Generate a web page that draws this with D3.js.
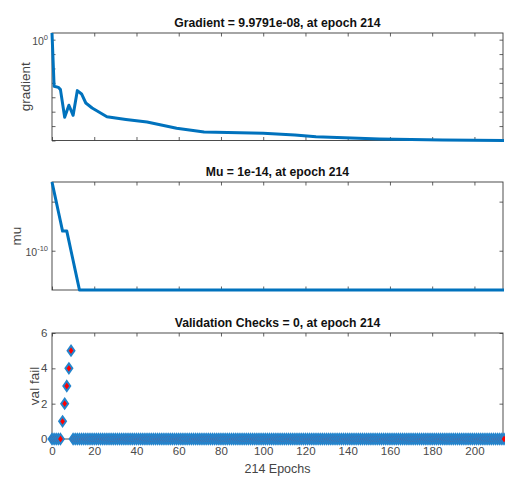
<!DOCTYPE html>
<html>
<head>
<meta charset="utf-8">
<script src="https://cdn.jsdelivr.net/npm/d3@7"></script>
<style>
  body { margin: 0; background: #fff; }
  svg { display: block; font-family: "Liberation Sans", Arial, sans-serif; }
</style>
</head>
<body>
<svg id="chart" width="505" height="477"></svg>
<script>
// Training record: 214 epochs
const lastEpoch = 214;
const xTickValues = [0, 20, 40, 60, 80, 100, 120, 140, 160, 180, 200];

// Gradient per epoch (sampled along the curve)
const gradEpochs = [0, 1, 3, 4, 6, 8, 10, 12, 14, 16, 19, 22, 26, 35, 45, 59, 72, 100, 115, 125, 155, 185, 214];
const gradValues = [2.9, 5.8e-4, 4.9e-4, 3.4e-4, 4.1e-6, 2.8e-5, 5.6e-6, 2.9e-4, 1.7e-4, 4.0e-5, 1.8e-5,
                    1.0e-5, 4.5e-6, 2.9e-6, 1.9e-6, 7.1e-7, 3.9e-7, 3.2e-7, 2.4e-7, 1.8e-7, 1.25e-7, 1.08e-7, 9.9791e-8];
const gradTicks = [1e0, 1e-1, 1e-2, 1e-3, 1e-4, 1e-5, 1e-6, 1e-7];
const gradTickLabels = [[1e0, "10", "0"]];

// Mu per epoch
const muEpochs = [0, 1, 2, 3, 4, 5, 6, 7, 8, 9, 10, 11, 12, 13, 214];
const muValues = [1e-3, 1e-4, 1e-5, 1e-6, 1e-7, 1e-8, 1e-8, 1e-8, 1e-9, 1e-10, 1e-11, 1e-12, 1e-13, 1e-14, 1e-14];
const muTicks = [1e-5, 1e-10];
const muTickLabels = [[1e-10, "10", "-10"]];

// Validation failures, epochs 0..214
const valFail = [
  0,0,0,0,0,1,2,3,4,5,
  0,0,0,0,0,0,0,0,0,0,0,0,0,0,0,0,0,0,0,0,
  0,0,0,0,0,0,0,0,0,0,0,0,0,0,0,0,0,0,0,0,
  0,0,0,0,0,0,0,0,0,0,0,0,0,0,0,0,0,0,0,0,
  0,0,0,0,0,0,0,0,0,0,0,0,0,0,0,0,0,0,0,0,
  0,0,0,0,0,0,0,0,0,0,0,0,0,0,0,0,0,0,0,0,
  0,0,0,0,0,0,0,0,0,0,0,0,0,0,0,0,0,0,0,0,
  0,0,0,0,0,0,0,0,0,0,0,0,0,0,0,0,0,0,0,0,
  0,0,0,0,0,0,0,0,0,0,0,0,0,0,0,0,0,0,0,0,
  0,0,0,0,0,0,0,0,0,0,0,0,0,0,0,0,0,0,0,0,
  0,0,0,0,0,0,0,0,0,0,0,0,0,0,0,0,0,0,0,0,
  0,0,0,0,0
];
const valTicks = [0, 2, 4, 6];

const titles = ["Gradient = 9.9791e-08, at epoch 214", "Mu = 1e-14, at epoch 214", "Validation Checks = 0, at epoch 214"];
const yLabels = ["gradient", "mu", "val fail"];
const xLabel = "214 Epochs";

const svg = d3.select("#chart");
const left = 52, right = 503;
const lineBlue = "#0072BD";
const axisColor = "#3a3a3a";
const tickText = "#4a4a4a";
const tickLen = 3.5;

const x = d3.scaleLinear().domain([0, lastEpoch]).range([left, right + 1]);

const panels = [
  { top: 33, bottom: 140.5 },
  { top: 182, bottom: 290 },
  { top: 333, bottom: 439 }
];

function frame(p, yScale, yTicks, i, showXLabels) {
  const g = svg.append("g");
  // x ticks, top and bottom, pointing inward
  const xb = d3.axisBottom(x).tickValues(xTickValues).tickSizeInner(-tickLen).tickSizeOuter(0)
    .tickFormat(showXLabels ? d3.format("d") : "");
  const xt = d3.axisTop(x).tickValues(xTickValues).tickSizeInner(-tickLen).tickSizeOuter(0).tickFormat("");
  const gb = g.append("g").attr("transform", `translate(0,${p.bottom})`).call(xb);
  const gt = g.append("g").attr("transform", `translate(0,${p.top})`).call(xt);
  // y ticks, left and right
  const yl = d3.axisLeft(yScale).tickValues(yTicks).tickSizeInner(-tickLen).tickSizeOuter(0).tickFormat("");
  const yr = d3.axisRight(yScale).tickValues(yTicks).tickSizeInner(-tickLen).tickSizeOuter(0).tickFormat("");
  const gl = g.append("g").attr("transform", `translate(${left},0)`).call(yl);
  const gr = g.append("g").attr("transform", `translate(${right},0)`).call(yr);
  [gb, gt, gl, gr].forEach(a => {
    a.select(".domain").remove();
    a.selectAll(".tick line").attr("stroke", axisColor).attr("stroke-width", 0.8);
  });
  gb.selectAll(".tick text").attr("fill", tickText).attr("font-size", 11.5)
    .attr("font-family", "'Liberation Sans', Arial, sans-serif").attr("dy", null).attr("y", 16);
  // box
  g.append("rect").attr("x", left).attr("y", p.top).attr("width", right - left).attr("height", p.bottom - p.top)
    .attr("fill", "none").attr("stroke", axisColor).attr("stroke-width", 0.9);
  // title
  svg.append("text").attr("x", (left + right) / 2).attr("y", p.top - 6)
    .attr("text-anchor", "middle").attr("font-weight", "bold").attr("font-size", 12.2)
    .attr("fill", "#111").text(titles[i]);
}

function yLabel(text, cx, cy, size) {
  svg.append("text").attr("transform", `translate(${cx},${cy}) rotate(-90)`)
    .attr("text-anchor", "middle").attr("dominant-baseline", "central")
    .attr("font-size", size).attr("fill", "#444").text(text);
}

function powLabel(yScale, entry) {
  const [v, base, expo] = entry;
  const t = svg.append("text").attr("x", left - 4).attr("y", yScale(v) + 5)
    .attr("text-anchor", "end").attr("fill", tickText).attr("font-size", 10.5);
  t.append("tspan").text(base);
  t.append("tspan").attr("font-size", 7.5).attr("dy", -5).text(expo);
}

// ---- Panel 1: gradient (log)
{
  const p = panels[0];
  const y = d3.scaleLog().domain([d3.min(gradValues), d3.max(gradValues)]).range([p.bottom, p.top]);
  frame(p, y, gradTicks, 0, false);
  gradTickLabels.forEach(e => powLabel(y, e));
  const line = d3.line().x(d => x(d[0])).y(d => y(d[1]));
  svg.append("path").datum(gradEpochs.map((e, k) => [e, gradValues[k]]))
    .attr("d", line).attr("fill", "none").attr("stroke", lineBlue)
    .attr("stroke-width", 3).attr("stroke-linejoin", "round");
  yLabel(yLabels[0], 25, (p.top + p.bottom) / 2, 13.5);
}

// ---- Panel 2: mu (log)
{
  const p = panels[1];
  const y = d3.scaleLog().domain([1e-14, 1e-3]).range([p.bottom, p.top]);
  frame(p, y, muTicks, 1, false);
  muTickLabels.forEach(e => powLabel(y, e));
  const line = d3.line().x(d => x(d[0])).y(d => y(d[1]));
  svg.append("path").datum(muEpochs.map((e, k) => [e, muValues[k]]))
    .attr("d", line).attr("fill", "none").attr("stroke", lineBlue)
    .attr("stroke-width", 3).attr("stroke-linejoin", "round");
  yLabel(yLabels[1], 16.5, (p.top + p.bottom) / 2, 13.5);
}

// ---- Panel 3: validation checks
{
  const p = panels[2];
  const y = d3.scaleLinear().domain([0, 6]).range([p.bottom, p.top]);
  frame(p, y, valTicks, 2, true);
  svg.append("g").selectAll("text").data(valTicks).join("text")
    .attr("x", left - 4.5).attr("y", d => y(d) + 4).attr("text-anchor", "end")
    .attr("fill", tickText).attr("font-size", 11.5).text(d => d);
  const diamond = "M0,-5L3.5,0L0,5L-3.5,0Z";
  svg.append("g").selectAll("path").data(valFail.map((v, k) => [k, v])).join("path")
    .attr("transform", d => `translate(${x(d[0])},${y(d[1])})`)
    .attr("d", diamond).attr("fill", "#ff0000").attr("stroke", "#2484cc").attr("stroke-width", 1.9);
  yLabel(yLabels[2], 34, (p.top + p.bottom) / 2, 13.5);
  svg.append("text").attr("x", (left + right) / 2).attr("y", 473)
    .attr("text-anchor", "middle").attr("font-size", 12.5).attr("fill", "#444").text(xLabel);
}
</script>
</body>
</html>
